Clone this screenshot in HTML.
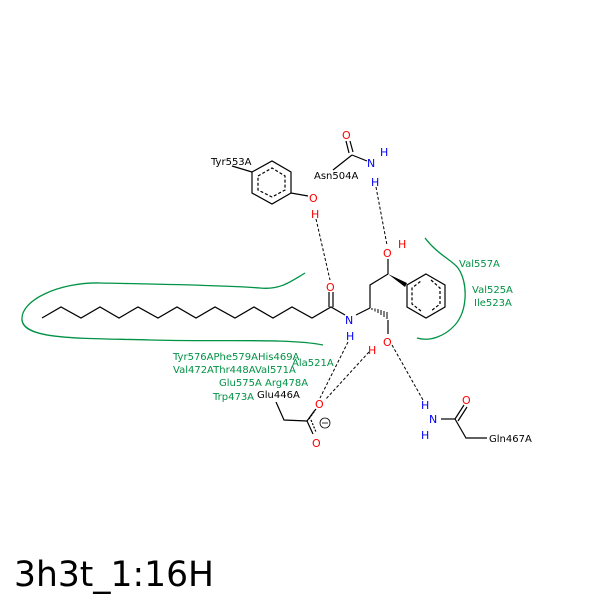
<!DOCTYPE html>
<html><head><meta charset="utf-8"><style>
body{margin:0;background:#fff}
svg{display:block}
text{font-family:"DejaVu Sans","Liberation Sans",sans-serif;font-size:11px}
text.l{font-size:10px}
.g{fill:#009245}.r{fill:#ff0000}.b{fill:#0000ff}.k{fill:#000}
</style></head><body>
<svg width="600" height="600" viewBox="0 0 600 600" xmlns="http://www.w3.org/2000/svg">
<rect width="600" height="600" fill="#fff"/>
<g fill="none" stroke="#009245" stroke-width="1.3">
<path d="M305,273 C290,282 280,290 260,288 C220,285 150,284 100,283 C60,282 20,300 22,320 C24,340 80,338 150,340 C220,342 290,338 323,345"/>
<path d="M425,238 C438,255 452,260 458,268 C468,282 468,310 455,325 C445,336 430,342 417,338"/>
</g>
<g fill="none" stroke="#000" stroke-width="1.2">
<polyline points="42,318 61,307 81,318 100,307 119,318 138,307 158,318 177,307 196,318 215,307 235,318 254,307 273,318 292,307 312,318 331,307 345,315"/>
<line x1="329" y1="307" x2="329" y2="292"/><line x1="333" y1="307" x2="333" y2="292"/>
<line x1="356" y1="315" x2="370" y2="308"/>
<polyline points="370,308 370,285 388,274"/>
<line x1="388" y1="274" x2="388" y2="259"/>
<line x1="388" y1="320" x2="388" y2="334"/>
<polygon points="426,274 445,285 445,307 426,318 407,307 407,285"/>
<polyline points="431,280 440,288 440,304 431,311" stroke-dasharray="3,2"/>
<polyline points="421,311 412,304 412,288 421,281" stroke-dasharray="3,2"/>
<polygon points="252,172 272,161 291,172 291,193 272,204 252,193"/>
<polygon points="258,176 272,168 285,176 285,190 272,197 258,190" stroke-dasharray="3,2"/>
<line x1="232" y1="166" x2="252" y2="172"/>
<line x1="291" y1="193" x2="308" y2="196"/>
<line x1="333" y1="170" x2="352" y2="155"/>
<line x1="349" y1="153" x2="346" y2="141"/><line x1="353" y1="152" x2="350" y2="141"/>
<line x1="352" y1="155" x2="367" y2="161"/>
<polyline points="276,402 284,420 307,421"/>
<line x1="307" y1="421" x2="315" y2="410"/>
<line x1="309" y1="419" x2="316" y2="409" stroke-dasharray="2,1.5"/>
<line x1="307" y1="421" x2="313" y2="434"/>
<line x1="311" y1="420" x2="316" y2="432" stroke-dasharray="2,1.5"/>
<line x1="441" y1="419" x2="455" y2="419"/>
<line x1="455" y1="419" x2="464" y2="405"/><line x1="458" y1="421" x2="467" y2="407"/>
<polyline points="455,419 466,438 487,438"/>
<circle cx="325" cy="423" r="5" stroke-width="0.8"/>
<line x1="322" y1="423" x2="328" y2="423" stroke-width="0.8"/>
</g>
<polygon points="388,274 407,283 405,287" fill="#000"/>
<g stroke="#000" stroke-width="1">
<line x1="372" y1="310" x2="372" y2="308"/><line x1="375" y1="311.5" x2="375" y2="308.5"/><line x1="378" y1="313" x2="378" y2="309"/><line x1="381" y1="315" x2="381" y2="310"/><line x1="384" y1="317" x2="384" y2="311"/><line x1="387" y1="319" x2="387" y2="312"/>
</g>
<g fill="none" stroke="#000" stroke-width="1" stroke-dasharray="3,2">
<line x1="316" y1="219" x2="330" y2="280"/>
<line x1="376" y1="187" x2="387" y2="245"/>
<line x1="348" y1="342" x2="320" y2="398"/>
<line x1="369" y1="352" x2="325" y2="400"/>
<line x1="392" y1="345" x2="423" y2="400"/>
</g>
<text x="326" y="291" class="r">O</text>
<text x="345" y="324" class="b">N</text>
<text x="346" y="340" class="b">H</text>
<text x="383" y="257" class="r">O</text>
<text x="398" y="248" class="r">H</text>
<text x="383" y="346" class="r">O</text>
<text x="368" y="354" class="r">H</text>
<text x="342" y="139" class="r">O</text>
<text x="367" y="167" class="b">N</text>
<text x="380" y="156" class="b">H</text>
<text x="371" y="186" class="b">H</text>
<text x="309" y="202" class="r">O</text>
<text x="311" y="218" class="r">H</text>
<text x="315" y="408" class="r">O</text>
<text x="312" y="447" class="r">O</text>
<text x="421" y="409" class="b">H</text>
<text x="429" y="423" class="b">N</text>
<text x="421" y="439" class="b">H</text>
<text x="462" y="404" class="r">O</text>
<text x="211" y="165" class="l k">Tyr553A</text>
<text x="314" y="179" class="l k">Asn504A</text>
<text x="257" y="398" class="l k">Glu446A</text>
<text x="489" y="442" class="l k">Gln467A</text>
<text x="459" y="267" class="l g">Val557A</text>
<text x="472" y="293" class="l g">Val525A</text>
<text x="474" y="306" class="l g">Ile523A</text>
<text x="173" y="360" class="l g">Tyr576APhe579AHis469A</text>
<text x="292" y="366" class="l g">Ala521A</text>
<text x="173" y="373" class="l g">Val472AThr448AVal571A</text>
<text x="219" y="386" class="l g">Glu575A</text>
<text x="265" y="386" class="l g">Arg478A</text>
<text x="213" y="400" class="l g">Trp473A</text>
<text x="14" y="586" style="font-size:34.5px" class="k">3h3t_1:16H</text>
</svg>
</body></html>
